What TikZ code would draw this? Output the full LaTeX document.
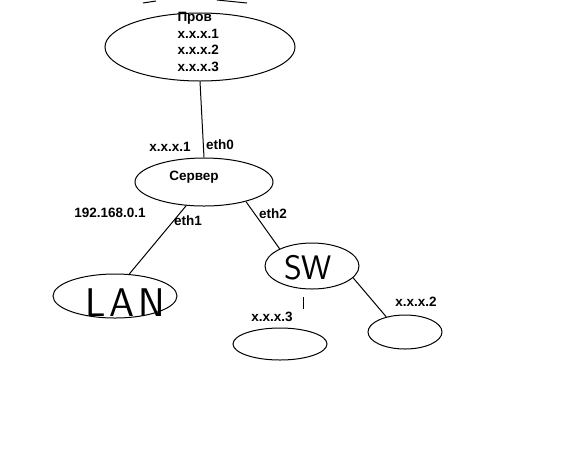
\documentclass[tikz,border=0pt]{standalone}
\usepackage{fontspec}
\setmainfont{Liberation Sans}
\usetikzlibrary{shapes.geometric}

\begin{document}
\begin{tikzpicture}[x=1pt,y=-1pt,line width=1pt]
\tikzset{blob/.style={ellipse,draw,inner sep=0pt},
  lbl/.style={font=\bfseries\fontsize{13.5}{16.5}\selectfont,inner sep=0pt},
  hand/.style={font=\sffamily\fontsize{36}{36}\selectfont,inner sep=0pt}}
\useasboundingbox (0,0) rectangle (564,459);

% clouds
\node[blob,minimum width=190,minimum height=68] (prov) at (200,47) {};
\node[blob,minimum width=138,minimum height=48] (srv) at (204,182) {};
\node[blob,minimum width=124,minimum height=44] (lan) at (115,296) {};
\node[blob,minimum width=94,minimum height=46] (sw) at (312,266) {};
\node[blob,minimum width=94,minimum height=32] (h3) at (280,344) {};
\node[blob,minimum width=74,minimum height=34] (h2) at (405,332) {};

% texts
\node[lbl,anchor=north west,align=left] (provtxt) at (177,12) {Пров\\x.x.x.1\\x.x.x.2\\x.x.x.3};
\node[lbl] (srvtxt) at (194,177) {Сервер};
\node[lbl] (ip1) at (170,147) {x.x.x.1};
\node[lbl] (eth0) at (220,145) {eth0};
\node[lbl] (ip0) at (110,213) {192.168.0.1};
\node[lbl] (eth1) at (188,221) {eth1};
\node[lbl] (eth2) at (273,214) {eth2};
\node[lbl] (ip3) at (272,317) {x.x.x.3};
\node[lbl] (ip2) at (416,302) {x.x.x.2};
\node[hand,font=\sffamily\fontsize{40}{40}\selectfont] (lantxt) at (125,303) {L\hspace{4pt}A\hspace{4pt}N};
\node[hand,font=\sffamily\fontsize{34}{34}\selectfont] (swtxt) at (308,268) {SW};

% links
\draw (prov.south) -- (srv.north);
\draw (srv.-127) -- (lan.57);
\draw (srv.-25) -- (sw.152);
\draw (sw.-16) -- (h2.141);
\coordinate (stubA) at (303,297);
\coordinate (stubB) at (303,309);
\draw (stubA) -- (stubB);

% scraps at the top
\draw (143,3) -- (156,1);
\draw (217,0) -- (247,3);
\end{tikzpicture}
\end{document}
